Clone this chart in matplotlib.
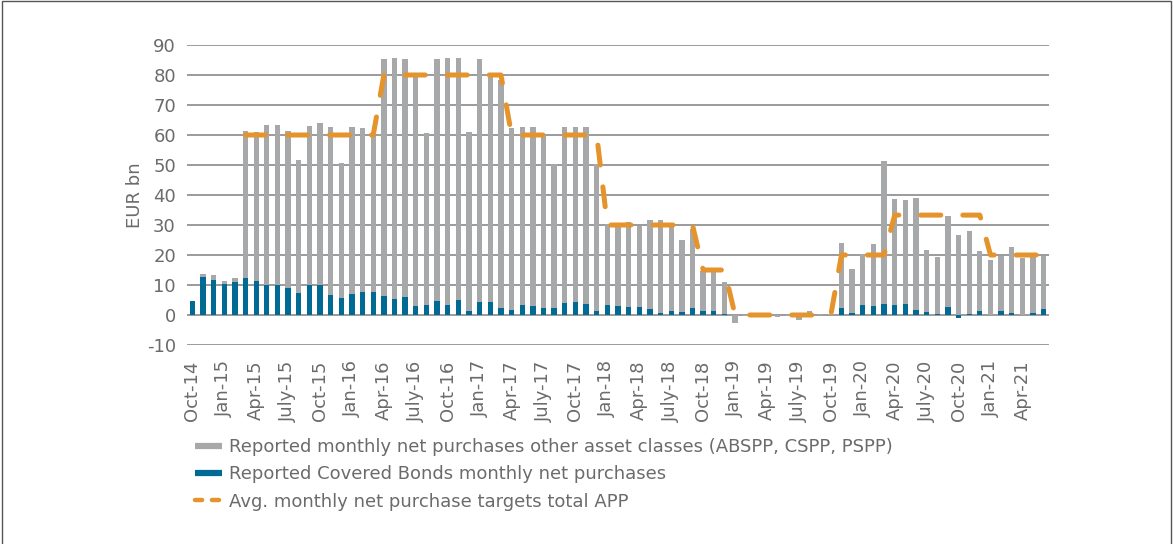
import numpy as np
import matplotlib
matplotlib.use("Agg")
import matplotlib.pyplot as plt
from matplotlib.lines import Line2D
from matplotlib.patches import Rectangle

plt.rcParams['font.family'] = ['DejaVu Sans']

# ---- data ----
months = ["Oct-14","Nov-14","Dec-14","Jan-15","Feb-15","Mar-15","Apr-15","May-15","Jun-15","July-15",
          "Aug-15","Sep-15","Oct-15","Nov-15","Dec-15","Jan-16","Feb-16","Mar-16","Apr-16","May-16",
          "Jun-16","July-16","Aug-16","Sep-16","Oct-16","Nov-16","Dec-16","Jan-17","Feb-17","Mar-17",
          "Apr-17","May-17","Jun-17","July-17","Aug-17","Sep-17","Oct-17","Nov-17","Dec-17","Jan-18",
          "Feb-18","Mar-18","Apr-18","May-18","Jun-18","July-18","Aug-18","Sep-18","Oct-18","Nov-18",
          "Dec-18","Jan-19","Feb-19","Mar-19","Apr-19","May-19","Jun-19","July-19","Aug-19","Sep-19",
          "Oct-19","Nov-19","Dec-19","Jan-20","Feb-20","Mar-20","Apr-20","May-20","Jun-20","July-20",
          "Aug-20","Sep-20","Oct-20","Nov-20","Dec-20","Jan-21","Feb-21","Mar-21","Apr-21","May-21",
          "Jun-21"]

covered_bonds = [4.8, 12.8, 11.7, 10.5, 10.9, 12.5, 11.3, 10.0, 10.1, 9.0,
                 7.4, 10.1, 9.9, 6.8, 5.8, 7.1, 7.6, 7.6, 6.4, 5.4,
                 6.0, 3.1, 3.4, 4.7, 3.3, 4.9, 1.2, 4.5, 4.2, 2.3,
                 1.7, 3.3, 3.1, 2.3, 2.4, 4.0, 4.5, 3.7, 1.2, 3.3,
                 3.0, 2.8, 2.8, 1.9, 0.7, 1.4, 1.1, 2.5, 1.3, 1.3,
                 0.4, 0.1, 0.0, 0.0, 0.0, 0.0, 0.0, 0.0, 0.0, 0.0,
                 0.0, 2.2, 0.7, 3.5, 3.1, 3.7, 3.4, 3.7, 1.7, 1.0,
                 0.3, 2.8, -1.1, 0.4, 1.4, 0.1, 1.3, 0.6, 0.1, 0.6,
                 2.0]

other_assets = [0.0, 0.7, 1.7, 0.7, 1.4, 48.9, 49.7, 53.2, 53.4, 52.5,
                44.4, 53.0, 54.0, 56.0, 44.7, 55.5, 54.6, 52.9, 78.9, 80.1,
                79.3, 76.4, 57.3, 80.6, 82.3, 80.7, 59.7, 80.8, 75.8, 76.1,
                60.6, 59.3, 59.5, 57.7, 47.9, 58.8, 58.1, 59.1, 49.3, 26.9,
                26.7, 28.3, 26.9, 29.8, 30.8, 28.5, 23.9, 26.1, 13.4, 12.9,
                10.5, -2.6, -0.3, -0.5, -0.3, -0.5, -0.4, -1.8, 1.4, 0.3,
                0.2, 21.9, 14.8, 17.0, 20.4, 47.6, 35.1, 34.5, 37.2, 20.7,
                18.9, 30.2, 26.6, 27.5, 19.8, 18.1, 18.4, 22.1, 18.9, 19.1,
                17.7]

nan = float('nan')
target = ([nan] * 5 + [60] * 13 + [80] * 12 + [60] * 9 + [30] * 9 + [15] * 3 +
          [0] * 10 + [20] * 5 + [33.3] * 9 + [20] * 6)

ytick_values = [-10, 0, 10, 20, 30, 40, 50, 60, 70, 80, 90]

legend_labels = ["Reported monthly net purchases other asset classes (ABSPP, CSPP, PSPP)",
                 "Reported Covered Bonds monthly net purchases",
                 "Avg. monthly net purchase targets total APP"]

# ---- styling ----
GRAY = "#A7A8AA"
BLUE = "#006A94"
ORANGE = "#E5932B"
TEXT = "#6B6B6B"
GRID = "#8A8A8A"
FS = 13

fig = plt.figure(figsize=(11.73, 5.44), dpi=100)
ax = fig.add_axes([187/1173, 1 - 345/544, (1049-187)/1173, 300/544])

x = np.arange(len(months))
cb = np.array(covered_bonds)
oa = np.array(other_assets)
# Excel-like stacking: positives stack upward, negatives downward
bottom_oa = np.where(oa >= 0, np.where(cb > 0, cb, 0), np.where(cb < 0, cb, 0))

w = 0.5
ax.bar(x, cb, width=w, color=BLUE, zorder=2)
ax.bar(x, oa, width=w, bottom=bottom_oa, color=GRAY, zorder=2)

lw = 3.6
line, = ax.plot(x, target, color=ORANGE, lw=lw, zorder=3,
                dash_capstyle='round', solid_capstyle='round')
line.set_dashes([4.0, 4.4])

ax.set_xlim(-0.5, len(months) - 0.5)
ax.set_ylim(-10, 90)
ax.set_yticks(ytick_values)
ax.set_yticklabels([str(v) for v in ytick_values])
ax.yaxis.grid(True, color=GRID, lw=1.2)
ax.set_axisbelow(True)
for s in ax.spines.values():
    s.set_visible(False)

tick_idx = list(range(0, len(months), 3))
ax.set_xticks(tick_idx)
ax.set_xticklabels([months[i] for i in tick_idx], rotation=90)
ax.tick_params(axis='x', length=0, pad=11, labelsize=FS, labelcolor=TEXT)
ax.tick_params(axis='y', length=0, pad=8, labelsize=FS, labelcolor=TEXT)

ax.set_ylabel("EUR bn", fontsize=FS, color=TEXT, labelpad=2)

handles = [Line2D([], [], color=GRAY, lw=4.5, solid_capstyle='butt'),
           Line2D([], [], color=BLUE, lw=4.5, solid_capstyle='butt'),
           Line2D([], [], color=ORANGE, lw=3.2, dashes=[1.6, 2.2], dash_capstyle='round')]
leg = fig.legend(handles, legend_labels, loc='upper left',
                 bbox_to_anchor=(195/1173, 1 - 438/544), frameon=False,
                 fontsize=FS, handlelength=1.5, handletextpad=0.4,
                 labelspacing=0.52, borderpad=0, borderaxespad=0)
for t in leg.get_texts():
    t.set_color(TEXT)

fig.patches.append(Rectangle((2/1173, -0.01), 1 - 4/1173, 1.01 - 1/544,
                             transform=fig.transFigure, fill=False,
                             edgecolor="#555555", lw=1.0))

fig.savefig("out.png", dpi=100)
